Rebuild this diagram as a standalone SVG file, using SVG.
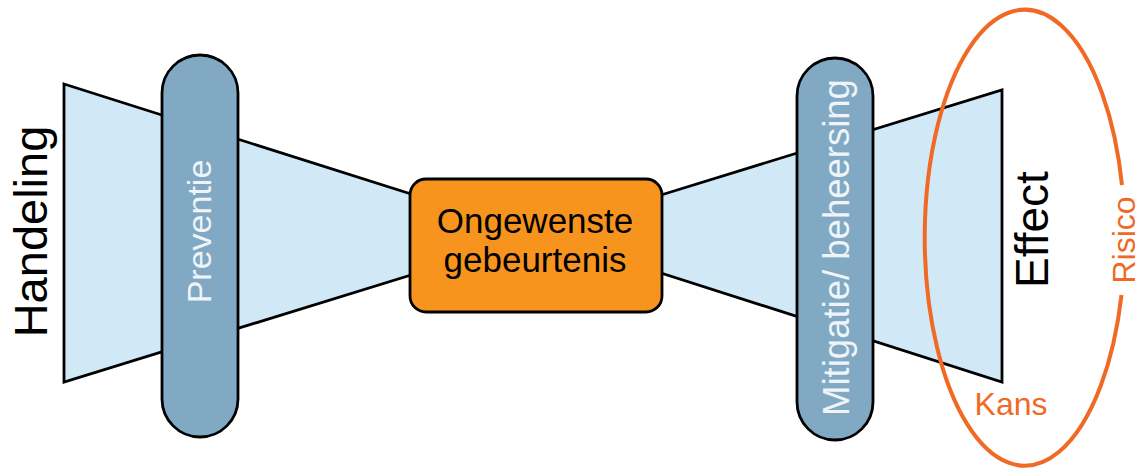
<svg xmlns="http://www.w3.org/2000/svg" width="1145" height="468" viewBox="0 0 1145 468">
<style>
.trap{fill:#d1e8f7;stroke:#000;stroke-width:2.8;stroke-linejoin:miter}
.pill{fill:#81a9c3;stroke:#000;stroke-width:2.8}
.box{fill:#f7941d;stroke:#000;stroke-width:2.8}
.t{font-family:"Liberation Sans",Arial,sans-serif;text-anchor:middle}
.blk{fill:#000}
.wht{fill:#eef4f8}
.org{fill:#f06a25}
.ell{fill:none;stroke:#f06a25;stroke-width:4}
</style>
<g id="trapezoids">
<polygon id="left-trap" class="trap" points="64,84 411,194 411,275 64,382"/>
<polygon id="right-trap" class="trap" points="661,195 1002,90 1002,382 661,273"/>
</g>
<g id="handeling">
<text class="t blk" font-size="47" transform="translate(47,231.5) rotate(-90)">Handeling</text>
</g>
<g id="preventie">
<rect class="pill" x="162" y="55" width="76" height="382" rx="38" ry="38"/>
<text class="t wht" font-size="34" transform="translate(211,231.5) rotate(-90)">Preventie</text>
</g>
<g id="ongewenste">
<rect class="box" x="410" y="179" width="252" height="133" rx="16" ry="16"/>
<text class="t blk" font-size="35" x="535" y="233">Ongewenste</text>
<text class="t blk" font-size="35" x="535" y="272">gebeurtenis</text>
</g>
<g id="mitigatie">
<rect class="pill" x="797" y="58" width="76" height="382" rx="38" ry="38"/>
<text class="t wht" font-size="36.5" transform="translate(849,247.5) rotate(-90)">Mitigatie/ beheersing</text>
</g>
<g id="effect">
<text class="t blk" font-size="46" transform="translate(1048,229.5) rotate(-90)">Effect</text>
</g>
<g id="risico">
<path class="ell" d="M1122,185 A100,228 0 1 0 1121.5,295"/>
<text class="t org" font-size="32" transform="translate(1135,240) rotate(-90)">Risico</text>
<text class="t org" font-size="32" x="1011" y="415">Kans</text>
</g>
</svg>
